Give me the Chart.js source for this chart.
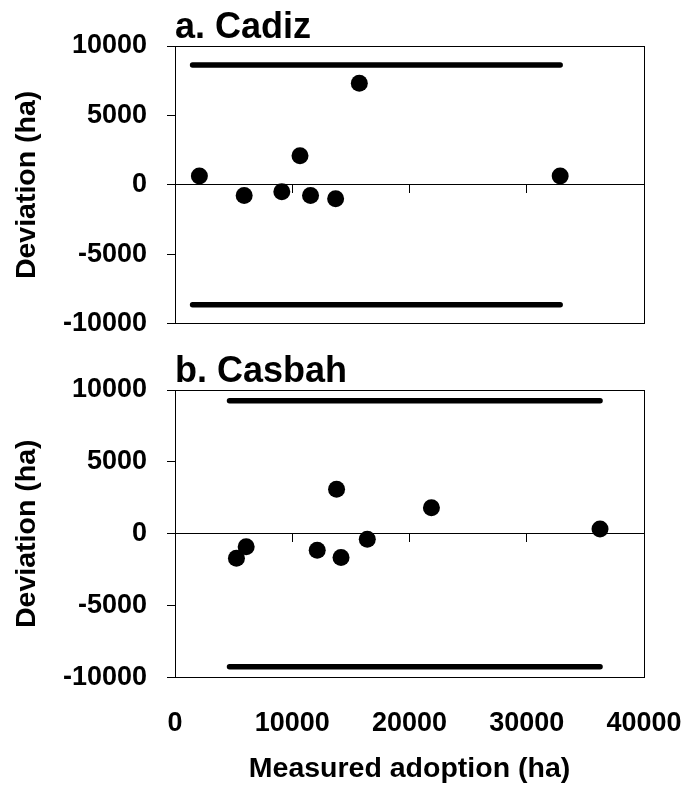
<!DOCTYPE html>
<html><head><meta charset="utf-8">
<script src="https://cdn.jsdelivr.net/npm/chart.js@4"></script>
<style>
html,body{margin:0;padding:0;background:#fff;}
#wrap{position:relative;width:687px;height:789px;overflow:hidden;}
#c1{position:absolute;left:0;top:0;}
#c2{position:absolute;left:0;top:343px;}
</style></head><body>
<div id="wrap">
<canvas id="c1" width="687" height="360"></canvas>
<canvas id="c2" width="687" height="446"></canvas>
</div>
<script>
// ---- data ----
const cadizX = [2080, 5900, 9110, 10660, 11560, 13700, 15720, 32850];
const cadizY = [640, -770, -490, 2100, -770, -990, 7320, 640];
const cadizLimit = 8630;
const cadizRange = [1500, 32850];

const casbahX = [5240, 6070, 12130, 13780, 14160, 16400, 21870, 36250];
const casbahY = [-1710, -900, -1150, 3090, -1660, -390, 1810, 330];
const casbahLimit = 9250;
const casbahRange = [4650, 36250];

const xTicks = [0, 10000, 20000, 30000, 40000];
const yTicks = [-10000, -5000, 0, 5000, 10000];
const panelTitles = ['a. Cadiz', 'b. Casbah'];
const yTitle = 'Deviation (ha)';
const xTitle = 'Measured adoption (ha)';

const FAM = '"Liberation Sans", Arial, Helvetica, sans-serif';
const tickFont = {family: FAM, size: 27, weight: 'bold'};
const titleFont = {family: FAM, size: 28.5, weight: 'bold'};

function makeChart(canvas, title, xs, ys, limit, range, showX, titlePadTop, bottomPad) {
  const pts = xs.map((x, i) => ({x: x, y: ys[i]}));
  const band = (v) => [{x: range[0], y: v}, {x: range[1], y: v}];
  const lineDs = (v) => ({
    data: band(v), showLine: true, borderColor: '#000', borderWidth: 5.5,
    borderCapStyle: 'round', pointRadius: 0, fill: false, xAxisID: 'x', yAxisID: 'y'
  });
  return new Chart(canvas, {
    type: 'scatter',
    data: {
      datasets: [
        lineDs(limit), lineDs(-limit),
        {data: pts, pointRadius: 8.5, pointHoverRadius: 8.5, backgroundColor: '#000',
         borderColor: '#000', borderWidth: 0, xAxisID: 'x', yAxisID: 'y'}
      ]
    },
    options: {
      responsive: false, animation: false, devicePixelRatio: 1,
      events: [],
      layout: {padding: {left: 0, right: 43, top: 0, bottom: bottomPad}},
      plugins: {
        legend: {display: false}, tooltip: {enabled: false},
        title: {display: true, text: title, align: 'start', fullSize: false, color: '#000',
          font: {family: FAM, size: 36, weight: 'bold', lineHeight: 1},
          padding: {top: titlePadTop, bottom: 0}}
      },
      scales: {
        x: {
          type: 'linear', position: 'bottom', min: 0, max: 40000,
          afterBuildTicks: (s) => { s.ticks = xTicks.map(v => ({value: v})); },
          ticks: {display: showX, font: tickFont, color: '#000', padding: 30, maxRotation: 0,
                  autoSkip: false, callback: (v) => String(v)},
          grid: {display: false, drawTicks: false},
          border: {display: true, color: '#000', width: 1},
          title: {display: showX, text: xTitle, color: '#000', font: titleFont,
                  padding: {top: 8, bottom: 2}},
          afterFit: (s) => { s.height = showX ? 110.5 : 0; s.paddingLeft = 0; s.paddingRight = 0; }
        },
        xtop: {
          type: 'linear', position: 'top', min: 0, max: 40000,
          ticks: {display: false}, grid: {display: false, drawTicks: false},
          border: {display: true, color: '#000', width: 1},
          afterFit: (s) => { s.height = 0; s.paddingLeft = 0; s.paddingRight = 0; }
        },
        xz: {
          type: 'linear', position: {y: 0}, min: 0, max: 40000,
          afterBuildTicks: (s) => { s.ticks = xTicks.map(v => ({value: v})); },
          ticks: {display: false},
          grid: {display: true, drawOnChartArea: false, drawTicks: true, tickLength: 8,
                 color: '#000', lineWidth: 1},
          border: {display: true, color: '#000', width: 1}
        },
        y: {
          type: 'linear', position: 'left', min: -10000, max: 10000,
          afterBuildTicks: (s) => { s.ticks = yTicks.map(v => ({value: v})); },
          ticks: {font: tickFont, color: '#000', padding: 20, callback: (v) => String(v)},
          grid: {display: true, drawOnChartArea: false, drawTicks: true, tickLength: 8,
                 color: '#000', lineWidth: 1},
          border: {display: true, color: '#000', width: 1},
          title: {display: true, text: yTitle, color: '#000', font: titleFont,
                  padding: {top: 10, bottom: 0}},
          afterFit: (s) => { s.width = 175; }
        },
        yright: {
          type: 'linear', position: 'right', min: -10000, max: 10000,
          ticks: {display: false}, grid: {display: false, drawTicks: false},
          border: {display: true, color: '#000', width: 1},
          afterFit: (s) => { s.width = 0; }
        }
      }
    }
  });
}

makeChart(document.getElementById('c1'), panelTitles[0], cadizX, cadizY, cadizLimit, cadizRange, false, 10, 24);
makeChart(document.getElementById('c2'), panelTitles[1], casbahX, casbahY, casbahLimit, casbahRange, true, 11, 1);
</script>
</body></html>
